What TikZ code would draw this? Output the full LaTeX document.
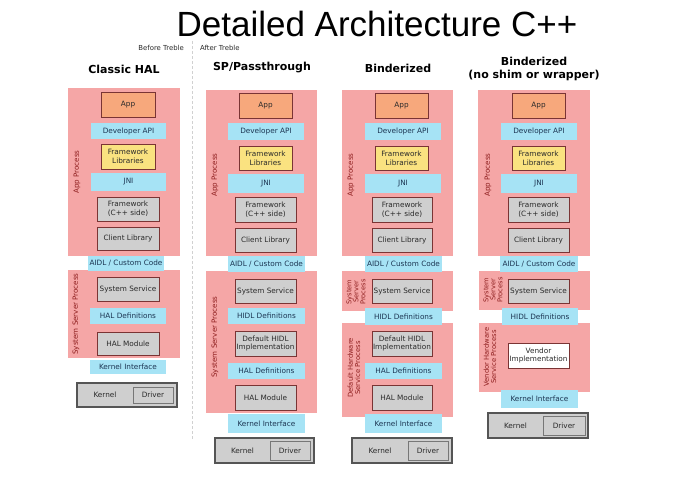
\documentclass[tikz,border=0pt]{standalone}
\usepackage{fontspec}
\setmainfont{DejaVu Sans}
\newfontfamily\titlefont{Liberation Sans}
\definecolor{pinkc}{HTML}{F5A6A6}
\definecolor{orangec}{HTML}{F7A87C}
\definecolor{bluec}{HTML}{A6E3F5}
\definecolor{yellowc}{HTML}{FAE280}
\definecolor{grayc}{HTML}{CFCFCF}
\definecolor{brownc}{HTML}{7A3434}
\definecolor{kernc}{HTML}{555555}
\definecolor{bluetext}{HTML}{1C3552}
\definecolor{boxtext}{HTML}{2A2A2A}
\definecolor{proclabel}{HTML}{8E1E1E}
\tikzset{
  base/.style={inner sep=0pt, outer sep=0pt, align=center, font=\fontsize{7.3}{8.6}\selectfont},
  procbox/.style={base, fill=pinkc},
  appbox/.style={base, fill=orangec, draw=brownc, line width=0.8pt, text=boxtext},
  apibox/.style={base, fill=bluec, text=bluetext},
  libbox/.style={base, fill=yellowc, draw=brownc, line width=0.8pt, text=boxtext},
  graybox/.style={base, fill=grayc, draw=brownc, line width=0.8pt, text=boxtext},
  whitebox/.style={base, fill=white, draw=brownc, line width=0.8pt, text=boxtext},
  kernbox/.style={base, fill=grayc, draw=kernc, line width=1.2pt},
  drvbox/.style={base, fill=grayc, draw=kernc!80, line width=0.9pt, text=boxtext},
  plabel/.style={inner sep=0pt, rotate=90, align=center, text=proclabel, font=\fontsize{7.1}{7.4}\selectfont},
  coltitle/.style={inner sep=0pt, align=center, font=\fontsize{11}{13}\selectfont\bfseries},
  smalltxt/.style={inner sep=0pt, font=\fontsize{6.9}{8}\selectfont, text=boxtext},
}
% \bx{name}{style}{x1}{y1}{x2}{y2}{text}
\newcommand\bx[7]{\node[#2, minimum width={#5-#3}, minimum height={#6-#4}] (#1) at ({(#3+#5)/2},{(#4+#6)/2}) {#7};}
% kernel + driver
\newcommand\kd[9]{%
  \bx{#1k}{kernbox}{#2}{#3}{#4}{#5}{}
  \bx{#1d}{drvbox}{#6}{#7}{#8}{#9}{Driver}
  \node[base, text=boxtext] (#1kt) at ({(#2+#6)/2},{(#3+#5)/2}) {Kernel};}
\begin{document}
\begin{tikzpicture}[x=1pt,y=-1pt]
\useasboundingbox[fill=white] (0,0) rectangle (700,487);
% title
\node[inner sep=0pt, anchor=base, font=\titlefont\fontsize{35}{40}\selectfont] (title) at (377,37) {Detailed Architecture C++};
\node[smalltxt, anchor=east] (before) at (184,48) {Before Treble};
\node[smalltxt, anchor=west] (after) at (200,48) {After Treble};
\coordinate (divtop) at (192,41);
\coordinate (divbot) at (192,440);
\draw[black!18, line width=0.8pt, densely dashed] (divtop) -- (divbot);
% column titles
\node[coltitle] (t1) at (124,69) {Classic HAL};
\node[coltitle] (t2) at (262,68) {SP/Passthrough};
\node[coltitle] (t3) at (398,68) {Binderized};
\node[coltitle] (t4) at (534,69) {Binderized\\(no shim or wrapper)};

% ---------- column 1 ----------
\bx{ap1}{procbox}{68}{88}{180}{256}{}
\bx{ss1p}{procbox}{68}{270}{180}{358}{}
\node[plabel] (ap1l) at (77,172) {App Process};
\node[plabel] (ss1l) at (76,314) {System Server Process};
\bx{app1}{appbox}{101}{92}{155}{117}{App}
\bx{dev1}{apibox}{91}{123}{166}{139}{Developer API}
\bx{fwl1}{libbox}{101}{144}{155}{169}{Framework\\Libraries}
\bx{jni1}{apibox}{91}{173}{166}{191}{JNI}
\bx{fcp1}{graybox}{97}{197}{159}{221}{Framework\\(C++ side)}
\bx{cli1}{graybox}{97}{227}{159}{250}{Client Library}
\bx{aidl1}{apibox}{88}{256}{164}{271}{AIDL / Custom Code}
\bx{ss1}{graybox}{97}{277}{159}{301}{System Service}
\bx{hal1}{apibox}{90}{308}{166}{324}{HAL Definitions}
\bx{halm1}{graybox}{97}{332}{159}{355}{HAL Module}
\bx{ki1}{apibox}{90}{360}{166}{374}{Kernel Interface}
\kd{c1}{77}{383}{177}{407}{133}{387}{173}{403}

% ---------- column 2 ----------
\bx{ap2}{procbox}{206}{90}{317}{256}{}
\bx{ss2p}{procbox}{206}{271}{317}{413}{}
\node[plabel] (ap2l) at (215,175) {App Process};
\node[plabel] (ss2l) at (215,337) {System Server Process};
\bx{app2}{appbox}{239}{93}{292}{118}{App}
\bx{dev2}{apibox}{228}{123}{304}{140}{Developer API}
\bx{fwl2}{libbox}{239}{146}{292}{170}{Framework\\Libraries}
\bx{jni2}{apibox}{228}{174}{304}{193}{JNI}
\bx{fcp2}{graybox}{235}{197}{296}{222}{Framework\\(C++ side)}
\bx{cli2}{graybox}{235}{228}{296}{252}{Client Library}
\bx{aidl2}{apibox}{228}{256}{305}{272}{AIDL / Custom Code}
\bx{ss2}{graybox}{235}{279}{296}{303}{System Service}
\bx{hidl2}{apibox}{228}{308}{305}{324}{HIDL Definitions}
\bx{dhi2}{graybox}{235}{331}{296}{356}{Default HIDL\\Implementation}
\bx{hal2}{apibox}{228}{363}{305}{379}{HAL Definitions}
\bx{halm2}{graybox}{235}{385}{296}{410}{HAL Module}
\bx{ki2}{apibox}{228}{414}{305}{433}{Kernel Interface}
\kd{c2}{215}{438}{314}{463}{270}{441}{310}{460}

% ---------- column 3 ----------
\bx{ap3}{procbox}{342}{90}{453}{256}{}
\bx{ss3p}{procbox}{342}{271}{453}{311}{}
\bx{dh3p}{procbox}{342}{323}{453}{417}{}
\node[plabel] (ap3l) at (351,175) {App Process};
\node[plabel, font=\fontsize{6.6}{7}\selectfont] (ss3l) at (356,292) {System\\Server\\Process};
\node[plabel, font=\fontsize{6.8}{7.4}\selectfont] (dh3l) at (354,368) {Default Hardware\\Service Process};
\bx{app3}{appbox}{375}{93}{428}{118}{App}
\bx{dev3}{apibox}{365}{123}{441}{140}{Developer API}
\bx{fwl3}{libbox}{375}{146}{428}{170}{Framework\\Libraries}
\bx{jni3}{apibox}{365}{174}{441}{193}{JNI}
\bx{fcp3}{graybox}{372}{197}{432}{222}{Framework\\(C++ side)}
\bx{cli3}{graybox}{372}{228}{432}{252}{Client Library}
\bx{aidl3}{apibox}{365}{256}{442}{272}{AIDL / Custom Code}
\bx{ss3}{graybox}{372}{279}{432}{303}{System Service}
\bx{hidl3}{apibox}{365}{308}{442}{325}{HIDL Definitions}
\bx{dhi3}{graybox}{372}{331}{432}{356}{Default HIDL\\Implementation}
\bx{hal3}{apibox}{365}{363}{442}{379}{HAL Definitions}
\bx{halm3}{graybox}{372}{385}{432}{410}{HAL Module}
\bx{ki3}{apibox}{365}{414}{442}{433}{Kernel Interface}
\kd{c3}{352}{438}{452}{463}{408}{441}{448}{460}

% ---------- column 4 ----------
\bx{ap4}{procbox}{478}{90}{590}{256}{}
\bx{ss4p}{procbox}{479}{271}{590}{310}{}
\bx{vh4p}{procbox}{479}{323}{590}{392}{}
\node[plabel] (ap4l) at (488,175) {App Process};
\node[plabel, font=\fontsize{6.6}{7}\selectfont] (ss4l) at (493,290) {System\\Server\\Process};
\node[plabel, font=\fontsize{6.8}{7.4}\selectfont] (vh4l) at (490,357) {Vendor Hardware\\Service Process};
\bx{app4}{appbox}{512}{93}{565}{118}{App}
\bx{dev4}{apibox}{501}{123}{577}{140}{Developer API}
\bx{fwl4}{libbox}{512}{146}{565}{170}{Framework\\Libraries}
\bx{jni4}{apibox}{501}{174}{577}{193}{JNI}
\bx{fcp4}{graybox}{508}{197}{569}{222}{Framework\\(C++ side)}
\bx{cli4}{graybox}{508}{228}{569}{252}{Client Library}
\bx{aidl4}{apibox}{500}{256}{578}{272}{AIDL / Custom Code}
\bx{ss4}{graybox}{508}{279}{569}{303}{System Service}
\bx{hidl4}{apibox}{502}{308}{578}{325}{HIDL Definitions}
\bx{vi4}{whitebox}{508}{343}{569}{368}{Vendor\\Implementation}
\bx{ki4}{apibox}{501}{390}{578}{408}{Kernel Interface}
\kd{c4}{488}{413}{588}{438}{543}{416}{585}{435}
\end{tikzpicture}
\end{document}
